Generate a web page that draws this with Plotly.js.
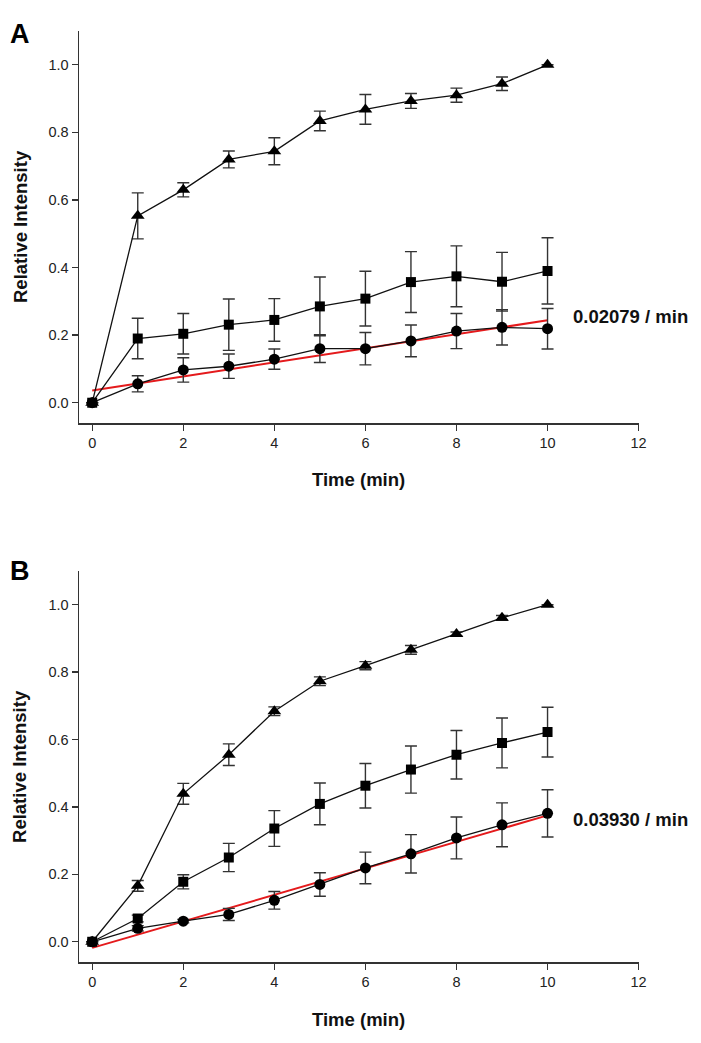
<!DOCTYPE html>
<html>
<head>
<meta charset="utf-8">
<script src="https://cdn.plot.ly/plotly-3.0.1.min.js"></script>
<style>html,body{margin:0;padding:0;background:#fff;}#chart{width:701px;height:1043px;}</style>
</head>
<body>
<div id="chart"></div>
<script>
// ---- data ----
var time = [0, 1, 2, 3, 4, 5, 6, 7, 8, 9, 10];

// Panel A
var aTriangle    = [0, 0.553, 0.630, 0.720, 0.744, 0.834, 0.868, 0.893, 0.910, 0.944, 1.000];
var aTriangleErr = [0, 0.068, 0.021, 0.025, 0.040, 0.029, 0.044, 0.022, 0.021, 0.020, 0];
var aSquare      = [0, 0.190, 0.204, 0.231, 0.245, 0.285, 0.308, 0.357, 0.374, 0.358, 0.390];
var aSquareErr   = [0, 0.060, 0.060, 0.076, 0.063, 0.087, 0.081, 0.090, 0.090, 0.087, 0.098];
var aCircle      = [0, 0.056, 0.097, 0.108, 0.129, 0.160, 0.160, 0.183, 0.212, 0.223, 0.219];
var aCircleErr   = [0, 0.024, 0.036, 0.036, 0.030, 0.041, 0.048, 0.047, 0.052, 0.052, 0.060];
var aFitX = [0, 10];
var aFitY = [0.036, 0.244];
var aRate = "0.02079 / min";

// Panel B
var bTriangle    = [0, 0.166, 0.439, 0.555, 0.684, 0.773, 0.819, 0.866, 0.913, 0.961, 1.000];
var bTriangleErr = [0, 0.016, 0.031, 0.032, 0.013, 0.013, 0.012, 0.013, 0.006, 0.007, 0];
var bSquare      = [0, 0.069, 0.178, 0.250, 0.336, 0.409, 0.463, 0.511, 0.555, 0.590, 0.622];
var bSquareErr   = [0, 0.010, 0.021, 0.042, 0.053, 0.062, 0.066, 0.070, 0.072, 0.074, 0.074];
var bCircle      = [0, 0.040, 0.061, 0.081, 0.123, 0.170, 0.219, 0.261, 0.308, 0.347, 0.381];
var bCircleErr   = [0, 0.008, 0.005, 0.018, 0.026, 0.035, 0.047, 0.057, 0.062, 0.065, 0.070];
var bFitX = [0, 10];
var bFitY = [-0.018, 0.375];
var bRate = "0.03930 / min";

var xTicks = [0, 2, 4, 6, 8, 10, 12];
var yTicks = [0, 0.2, 0.4, 0.6, 0.8, 1.0];
var yTickText = ["0.0", "0.2", "0.4", "0.6", "0.8", "1.0"];

// ---- styling ----
var FONT = "Liberation Sans, Arial, Helvetica, sans-serif";
function series(x, y, err, symbol, size, xa, ya) {
  return {
    x: x, y: y, xaxis: xa, yaxis: ya, type: 'scatter', mode: 'lines+markers',
    line: {color: '#111', width: 1.3},
    marker: {symbol: symbol, size: size, color: '#000'},
    error_y: {type: 'data', array: err, visible: true, color: '#333', thickness: 1.4, width: 6},
    showlegend: false, hoverinfo: 'x+y'
  };
}
function fit(x, y, xa, ya) {
  return {x: x, y: y, xaxis: xa, yaxis: ya, type: 'scatter', mode: 'lines',
          line: {color: '#e41a1c', width: 2}, showlegend: false};
}

var data = [
  fit(aFitX, aFitY, 'x', 'y'),
  series(time, aTriangle, aTriangleErr, 'triangle-up', 12, 'x', 'y'),
  series(time, aSquare, aSquareErr, 'square', 10, 'x', 'y'),
  series(time, aCircle, aCircleErr, 'circle', 11, 'x', 'y'),
  fit(bFitX, bFitY, 'x2', 'y2'),
  series(time, bTriangle, bTriangleErr, 'triangle-up', 12, 'x2', 'y2'),
  series(time, bSquare, bSquareErr, 'square', 10, 'x2', 'y2'),
  series(time, bCircle, bCircleErr, 'circle', 11, 'x2', 'y2')
];

function xax(anchor) {
  return {
    domain: [0.1127, 0.911], range: [-0.29, 12], anchor: anchor,
    tickvals: xTicks, ticks: 'outside', ticklen: 6, tickwidth: 1.3, tickcolor: '#333',
    showline: true, linecolor: '#333', linewidth: 1.5, showgrid: false, zeroline: false,
    tickfont: {family: FONT, size: 14.5, color: '#222'}, mirror: false
  };
}
function yax(anchor, dom) {
  return {
    domain: dom, range: [-0.06, 1.10], anchor: anchor,
    tickvals: yTicks, ticktext: yTickText, ticks: 'outside', ticklen: 6, tickwidth: 1.3, tickcolor: '#333',
    showline: true, linecolor: '#333', linewidth: 1.5, showgrid: false, zeroline: false,
    tickfont: {family: FONT, size: 14.5, color: '#222'}
  };
}

var boldT = {family: FONT, size: 18.5, color: '#111'};
var annotations = [
  {text: '<b>A</b>', xref: 'paper', yref: 'paper', x: 0.012, y: 0.9674, xanchor: 'left', yanchor: 'middle', showarrow: false, font: {family: FONT, size: 27, color: '#000'}},
  {text: '<b>B</b>', xref: 'paper', yref: 'paper', x: 0.012, y: 0.4525, xanchor: 'left', yanchor: 'middle', showarrow: false, font: {family: FONT, size: 27, color: '#000'}},
  {text: '<b>Relative Intensity</b>', xref: 'paper', yref: 'paper', x: 0.0285, y: 0.7833, xanchor: 'center', yanchor: 'middle', textangle: -90, showarrow: false, font: boldT},
  {text: '<b>Relative Intensity</b>', xref: 'paper', yref: 'paper', x: 0.0285, y: 0.2656, xanchor: 'center', yanchor: 'middle', textangle: -90, showarrow: false, font: boldT},
  {text: '<b>Time (min)</b>', xref: 'paper', yref: 'paper', x: 0.5107, y: 1 - 479/1043, xanchor: 'center', yanchor: 'middle', showarrow: false, font: boldT},
  {text: '<b>Time (min)</b>', xref: 'paper', yref: 'paper', x: 0.5107, y: 1 - 1019/1043, xanchor: 'center', yanchor: 'middle', showarrow: false, font: boldT},
  {text: '<b>' + aRate + '</b>', xref: 'paper', yref: 'paper', x: 571/701, y: 1 - 317/1043, xanchor: 'left', yanchor: 'middle', showarrow: false, font: boldT},
  {text: '<b>' + bRate + '</b>', xref: 'paper', yref: 'paper', x: 571/701, y: 1 - 819/1043, xanchor: 'left', yanchor: 'middle', showarrow: false, font: boldT}
];

var layout = {
  width: 701, height: 1043,
  margin: {l: 0, r: 0, t: 0, b: 0},
  paper_bgcolor: '#fff', plot_bgcolor: '#fff',
  xaxis: xax('y'),
  yaxis: yax('x', [1 - 423/1043, 1 - 31/1043]),
  xaxis2: xax('y2'),
  yaxis2: yax('x2', [1 - 962/1043, 1 - 571/1043]),
  annotations: annotations,
  font: {family: FONT}
};

Plotly.newPlot('chart', data, layout, {displayModeBar: false, staticPlot: true});
</script>
</body>
</html>
